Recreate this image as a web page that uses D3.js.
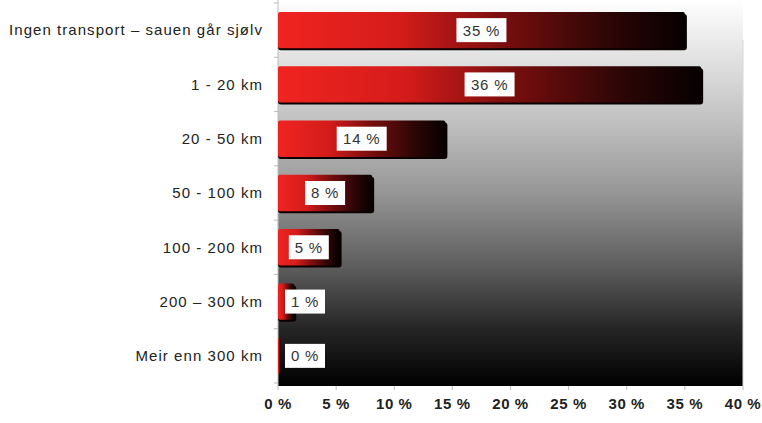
<!DOCTYPE html>
<html>
<head>
<meta charset="utf-8">
<script src="https://cdn.jsdelivr.net/npm/d3@7"></script>
<style>
  body { margin: 0; background: #fff; }
  text { font-family: "Liberation Sans", Arial, sans-serif; }
</style>
</head>
<body>
<div id="chart"></div>
<script>
// data
var categories = ["Ingen transport \u2013 sauen går sjølv", "1 - 20 km", "20 - 50 km",
    "50 - 100 km", "100 - 200 km", "200 \u2013 300 km", "Meir enn 300 km"];
var values = [35.0, 36.4, 14.4, 8.1, 5.3, 1.4, 0.2];
var xTicks = [0, 5, 10, 15, 20, 25, 30, 35, 40];

var width = 762, height = 423;
var margin = {left: 278, right: 19, top: 0, bottom: 37};

var svg = d3.select("#chart").append("svg")
    .attr("width", width)
    .attr("height", height);

var x = d3.scaleLinear().domain([0, 40]).range([margin.left, width - margin.right]);
var y = d3.scaleBand().domain(categories)
    .range([margin.top, height - margin.bottom])
    .paddingInner(0.33).paddingOuter(0.22);

var defs = svg.append("defs");

var bg = defs.append("linearGradient").attr("id", "bg")
    .attr("x1", 0).attr("y1", 0).attr("x2", 0).attr("y2", 1);
[[0, "#ffffff"], [0.1, "#ececec"], [0.3, "#c4c4c4"], [0.5, "#969696"],
 [0.7, "#5a5a5a"], [0.85, "#262626"], [1, "#000000"]].forEach(function (s) {
    bg.append("stop").attr("offset", s[0]).attr("stop-color", s[1]);
});

var barGrad = defs.append("linearGradient").attr("id", "bar")
    .attr("x1", 0).attr("y1", 0).attr("x2", 1).attr("y2", 0);
[[0, "#f02420"], [0.3, "#d41c1a"], [0.55, "#7a0e0e"], [0.8, "#300606"], [1, "#060000"]].forEach(function (s) {
    barGrad.append("stop").attr("offset", s[0]).attr("stop-color", s[1]);
});

// plot background
svg.append("rect")
    .attr("x", x(0)).attr("y", y.range()[0])
    .attr("width", x(40) - x(0)).attr("height", y.range()[1] - y.range()[0])
    .attr("fill", "url(#bg)");
svg.append("line")
    .attr("x1", x(40)).attr("x2", x(40))
    .attr("y1", 40).attr("y2", y.range()[1])
    .attr("stroke", "#d8d8d8").attr("stroke-width", 1);

// y axis line + ticks
var yAxis = svg.append("g");
yAxis.append("line")
    .attr("x1", x(0)).attr("x2", x(0))
    .attr("y1", y.range()[0]).attr("y2", y.range()[1])
    .attr("stroke", "#bbb");
d3.range(categories.length + 1).forEach(function (i) {
    var yy = y.range()[0] + y.step() * y.paddingOuter() - y.step() * y.paddingInner() / 2 + i * y.step();
    yAxis.append("line")
        .attr("x1", x(0) - 4).attr("x2", x(0))
        .attr("y1", yy).attr("y2", yy)
        .attr("stroke", "#bbb");
});

yAxis.selectAll("text.cat")
    .data(categories)
    .enter().append("text")
    .attr("class", "cat")
    .attr("x", x(0) - 15)
    .attr("y", d => y(d) + y.bandwidth() / 2)
    .attr("dy", "0.35em")
    .attr("text-anchor", "end")
    .attr("font-size", 15)
    .attr("letter-spacing", 1.05)
    .attr("fill", "#222")
    .text(d => d);

// x axis
var xAxis = svg.append("g");
xAxis.selectAll("line")
    .data(xTicks)
    .enter().append("line")
    .attr("x1", d => x(d)).attr("x2", d => x(d))
    .attr("y1", y.range()[1]).attr("y2", y.range()[1] + 4)
    .attr("stroke", "#bbb");
xAxis.selectAll("text")
    .data(xTicks)
    .enter().append("text")
    .attr("x", d => x(d))
    .attr("y", y.range()[1] + 18)
    .attr("dy", "0.35em")
    .attr("text-anchor", "middle")
    .attr("font-size", 15)
    .attr("letter-spacing", 0.6)
    .attr("font-weight", "bold")
    .attr("fill", "#222")
    .text(d => d + " %");

// bars
var rows = categories.map((c, i) => ({cat: c, v: values[i]}));
var bars = svg.append("g");

bars.selectAll("rect.shadow")
    .data(rows.filter(d => d.v > 0.5))
    .enter().append("rect")
    .attr("class", "shadow")
    .attr("x", x(0))
    .attr("y", d => y(d.cat) + 2)
    .attr("width", d => x(d.v) - x(0) + 2)
    .attr("height", y.bandwidth())
    .attr("rx", 3)
    .attr("fill", "#0a0000");

bars.selectAll("rect.bar")
    .data(rows)
    .enter().append("rect")
    .attr("class", "bar")
    .attr("x", x(0))
    .attr("y", d => y(d.cat))
    .attr("width", d => x(d.v) - x(0))
    .attr("height", y.bandwidth())
    .attr("rx", 2)
    .attr("fill", "url(#bar)");

// value labels
var fmt = d3.format(".0f");
var labH = 24;
var labels = svg.append("g").selectAll("g")
    .data(rows)
    .enter().append("g")
    .attr("transform", function (d) {
        var w = fmt(d.v).length > 1 ? 50 : 40;
        var cx = Math.max((x(0) + x(d.v)) / 2, x(0) + 7 + w / 2);
        return "translate(" + cx + "," + (y(d.cat) + y.bandwidth() / 2) + ")";
    });
labels.append("rect")
    .attr("x", d => -(fmt(d.v).length > 1 ? 25 : 20))
    .attr("y", -labH / 2)
    .attr("width", d => fmt(d.v).length > 1 ? 50 : 40)
    .attr("height", labH)
    .attr("fill", "#fff");
labels.append("text")
    .attr("text-anchor", "middle")
    .attr("dy", "0.36em")
    .attr("font-size", 15)
    .attr("letter-spacing", 0.8)
    .attr("fill", "#333")
    .text(d => fmt(d.v) + " %");
</script>
</body>
</html>
